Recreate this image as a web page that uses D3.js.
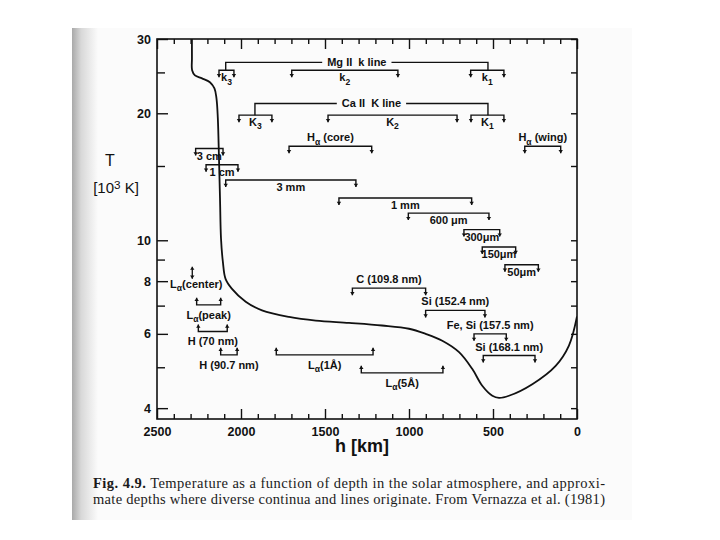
<!DOCTYPE html>
<html><head><meta charset="utf-8">
<script src="https://cdn.jsdelivr.net/npm/d3@7"></script>
<style>body{margin:0;background:#fff}svg{display:block}</style>
</head><body><svg id="c" width="720" height="540"></svg>
<script>
// ---------- data ----------
const hMajorTicks = [2500, 2000, 1500, 1000, 500, 0];
const hMinorTicks = [2400, 2300, 2200, 2100, 1900, 1800, 1700, 1600, 1400, 1300, 1200, 1100, 900, 800, 700, 600, 400, 300, 200, 100];
const tMajorTicks = [4, 6, 8, 10, 20, 30];
const tMinorTicks = [5, 7, 9, 15, 25];

// temperature curve (h in km, T in 10^3 K)
const curveH = [2292, 2292, 2291, 2274, 2232, 2185, 2158, 2146, 2138, 2131, 2125, 2119, 2108, 2092, 2055, 1972, 1875, 1714, 1555, 1357, 1161, 1000, 901, 802, 702, 623, 564, 504, 464, 405, 266, 127, 48, 0];
const curveT = [30, 27.0, 25.3, 24.6, 24.2, 23.7, 22.9, 21.7, 19.5, 15.6, 12.6, 10.1, 8.9, 8.1, 7.68, 7.15, 6.82, 6.58, 6.45, 6.37, 6.28, 6.17, 6.0, 5.78, 5.43, 4.95, 4.52, 4.28, 4.23, 4.28, 4.56, 5.04, 5.63, 6.6];

// brackets with labels below, ticks pointing down
const downBrackets = [
  {label: "k_3", h1: 2131, h2: 2042, T: 25.3},
  {label: "k_2", h1: 1698, h2: 1066, T: 25.3},
  {label: "k_1", h1: 633, h2: 435, T: 25.3},
  {label: "K_3", h1: 2012, h2: 1816, T: 19.8},
  {label: "K_2", h1: 1482, h2: 714, T: 19.8},
  {label: "K_1", h1: 631, h2: 435, T: 19.8},
  {label: "3 cm", h1: 2270, h2: 2107, T: 16.5},
  {label: "1 cm", h1: 2208, h2: 2018, T: 15.1},
  {label: "3 mm", h1: 2091, h2: 1316, T: 13.9},
  {label: "1 mm", h1: 1417, h2: 627, T: 12.6},
  {label: "600 μm", h1: 1004, h2: 524, T: 11.6},
  {label: "300μm", h1: 673, h2: 460, T: 10.6},
  {label: "150μm", h1: 564, h2: 365, T: 9.64},
  {label: "50μm", h1: 429, h2: 230, T: 8.75}
];
// brackets with labels above, ticks pointing down
const aboveBrackets = [
  {label: "H_α (core)", h1: 1714, h2: 1222, T: 16.7},
  {label: "H_α (wing)", h1: 311, h2: 97, T: 16.7},
  {label: "C (109.8 nm)", h1: 1337, h2: 901, T: 7.70},
  {label: "Si (152.4 nm)", h1: 901, h2: 548, T: 6.82},
  {label: "Fe, Si (157.5 nm)", h1: 613, h2: 421, T: 6.0},
  {label: "Si (168.1 nm)", h1: 558, h2: 250, T: 5.33}
];
// brackets with ticks pointing up, labels below
const upBrackets = [
  {label: "L_α(peak)", h1: 2264, h2: 2121, T: 7.03},
  {label: "H (70 nm)", h1: 2254, h2: 2082, T: 6.08},
  {label: "H (90.7 nm)", h1: 2121, h2: 2023, T: 5.35},
  {label: "L_α(1Å)", h1: 1790, h2: 1214, T: 5.35},
  {label: "L_α(5Å)", h1: 1284, h2: 798, T: 4.85}
];
// line groups
const lineGroups = [
  {label: "Mg II  k line", h1: 2091, h2: 530, T: 26.4, subT: 25.3},
  {label: "Ca II  K line", h1: 1917, h2: 530, T: 21.1, subT: 19.8}
];
// single-depth marker
const pointMarks = [{label: "L_α(center)", h: 2290, T: 8.38}];

const captionBold = "Fig. 4.9.";
const captionLine1 = " Temperature as a function of depth in the solar atmosphere, and approxi-";
const captionLine2 = "mate depths where diverse continua and lines originate. From Vernazza et al. (1981)";

// ---------- drawing ----------
const svg = d3.select("#c");
const ink = "#111";
const sans = "'Liberation Sans', Arial, sans-serif";

// scanned page background
const defs = svg.append("defs");
const grad = defs.append("linearGradient").attr("id", "shade").attr("x1", 0).attr("x2", 1).attr("y1", 0).attr("y2", 0);
grad.append("stop").attr("offset", 0).attr("stop-color", "#a9a9a9");
grad.append("stop").attr("offset", 0.35).attr("stop-color", "#d8d8d8");
grad.append("stop").attr("offset", 1).attr("stop-color", "#fbfbfb");
svg.append("rect").attr("x", 72).attr("y", 28).attr("width", 560).attr("height", 492).attr("fill", "#fbfbfb");
svg.append("rect").attr("x", 72).attr("y", 28).attr("width", 26).attr("height", 492).attr("fill", "url(#shade)");

const x = d3.scaleLinear().domain([2500, 0]).range([157, 577]);
const y = d3.scaleLog().domain([3.77, 30]).range([419, 39]);
const [xl, xr] = x.range();
const [yb, yt] = y.range();

function rich(t, str, size) {
  const parts = []; let buf = ""; let i = 0;
  while (i < str.length) {
    const c = str[i];
    if ((c === "_" || c === "^") && i + 1 < str.length) {
      if (buf) { parts.push({s: buf, m: 0}); buf = ""; }
      parts.push({s: str[i + 1], m: c === "_" ? 1 : -1}); i += 2;
    } else { buf += c; i++; }
  }
  if (buf) parts.push({s: buf, m: 0});
  let cur = 0;
  parts.forEach(p => {
    const target = p.m * size * 0.3;
    const ts = t.append("tspan").text(p.s).attr("dy", target - cur);
    if (p.m) ts.attr("font-size", size * 0.78);
    cur = target;
  });
  return t;
}

// axes (ticks pointing inward)
const axG = svg.append("g").attr("color", ink);
function styleAxis(g) { g.select(".domain").remove(); g.selectAll("line").attr("stroke", ink).attr("stroke-width", 1.4); }
axG.append("g").attr("transform", `translate(0,${yb})`)
  .call(d3.axisBottom(x).tickValues(hMinorTicks).tickSize(-5).tickFormat("")).call(styleAxis);
axG.append("g").attr("transform", `translate(0,${yb})`)
  .call(d3.axisBottom(x).tickValues(hMajorTicks).tickSize(-10).tickPadding(8).tickFormat(d3.format("d"))).call(styleAxis)
  .selectAll("text").attr("font-family", sans).attr("font-weight", "bold").attr("font-size", 12.5).attr("fill", ink);
axG.append("g").attr("transform", `translate(0,${yt})`)
  .call(d3.axisTop(x).tickValues(hMinorTicks).tickSize(-5).tickFormat("")).call(styleAxis);
axG.append("g").attr("transform", `translate(0,${yt})`)
  .call(d3.axisTop(x).tickValues(hMajorTicks).tickSize(-10).tickFormat("")).call(styleAxis);
axG.append("g").attr("transform", `translate(${xl},0)`)
  .call(d3.axisLeft(y).tickValues(tMinorTicks).tickSize(-8).tickFormat("")).call(styleAxis);
axG.append("g").attr("transform", `translate(${xl},0)`)
  .call(d3.axisLeft(y).tickValues(tMajorTicks).tickSize(-11).tickPadding(6).tickFormat(d3.format("d"))).call(styleAxis)
  .selectAll("text").attr("font-family", sans).attr("font-weight", "bold").attr("font-size", 12.5).attr("fill", ink);
axG.append("g").attr("transform", `translate(${xr},0)`)
  .call(d3.axisRight(y).tickValues(tMinorTicks.concat(tMajorTicks)).tickSize(-6).tickFormat("")).call(styleAxis);

// frame
svg.append("rect").attr("x", xl).attr("y", yt).attr("width", xr - xl).attr("height", yb - yt)
  .attr("fill", "none").attr("stroke", ink).attr("stroke-width", 1.6);

// axis titles
svg.append("text").attr("x", 110).attr("y", 166).attr("text-anchor", "middle")
  .attr("font-family", sans).attr("font-size", 16).attr("fill", ink).text("T");
rich(svg.append("text").attr("x", 116).attr("y", 193).attr("text-anchor", "middle")
  .attr("font-family", sans).attr("font-size", 15).attr("fill", ink), "[10^3 K]", 15);
svg.append("text").attr("x", 362).attr("y", 452).attr("text-anchor", "middle")
  .attr("font-family", sans).attr("font-weight", "bold").attr("font-size", 18).attr("fill", ink).text("h [km]");

// temperature curve
svg.append("defs").append("clipPath").attr("id", "clip").append("rect")
  .attr("x", xl).attr("y", yt).attr("width", xr - xl).attr("height", yb - yt);
const pts = curveH.map((h, i) => [h, curveT[i]]);
svg.append("path").datum(pts).attr("clip-path", "url(#clip)")
  .attr("d", d3.line().x(d => x(d[0])).y(d => y(d[1])).curve(d3.curveCatmullRom.alpha(0.5)))
  .attr("fill", "none").attr("stroke", ink).attr("stroke-width", 1.8);

// brackets
const bg = svg.append("g");
const tickLen = 7, lblSize = 11;
function arrowHead(xp, yp, dir) {
  bg.append("path").attr("d", `M${xp - 2.2},${yp - dir * 3.2}L${xp},${yp}L${xp + 2.2},${yp - dir * 3.2}Z`).attr("fill", ink);
}
function bracket(b, dir) {
  const x1 = x(b.h1), x2 = x(b.h2), y0 = y(b.T);
  bg.append("path").attr("d", `M${x1},${y0 + dir * tickLen}V${y0}H${x2}V${y0 + dir * tickLen}`)
    .attr("fill", "none").attr("stroke", ink).attr("stroke-width", 1.4);
  arrowHead(x1, y0 + dir * tickLen, dir);
  arrowHead(x2, y0 + dir * tickLen, dir);
  return [(x1 + x2) / 2, y0];
}
function label(str, cx, by) {
  return rich(bg.append("text").attr("x", cx).attr("y", by).attr("text-anchor", "middle")
    .attr("font-family", sans).attr("font-weight", "bold").attr("font-size", lblSize).attr("fill", ink), str, lblSize);
}
downBrackets.forEach(b => { const [cx, y0] = bracket(b, 1); label(b.label, cx, y0 + 11); });
aboveBrackets.forEach(b => { const [cx, y0] = bracket(b, 1); label(b.label, cx, y0 - 5); });
upBrackets.forEach(b => { const [cx, y0] = bracket(b, -1); label(b.label, cx, y0 + 14); });

lineGroups.forEach(g => {
  const x1 = x(g.h1), x2 = x(g.h2), y0 = y(g.T), ys = y(g.subT);
  bg.append("path").attr("d", `M${x1},${ys}V${y0}H${x2}V${ys}`)
    .attr("fill", "none").attr("stroke", ink).attr("stroke-width", 1.4);
  const t = label(g.label, (x1 + x2) / 2, y0 + 4).attr("xml:space", "preserve").style("white-space", "pre");
  const bb = t.node().getBBox();
  bg.insert("rect", () => t.node()).attr("x", bb.x - 5).attr("y", y0 - 2).attr("width", bb.width + 10).attr("height", 4).attr("fill", "#fbfbfb");
});

pointMarks.forEach(p => {
  const cx = x(p.h), cy = y(p.T);
  bg.append("line").attr("x1", cx).attr("x2", cx).attr("y1", cy - 6).attr("y2", cy + 6).attr("stroke", ink).attr("stroke-width", 1.3);
  arrowHead(cx, cy - 6, -1);
  arrowHead(cx, cy + 6, 1);
  label(p.label, cx + 4, cy + 15);
});

// caption
const serif = "'Liberation Serif', 'Times New Roman', serif";
const c1 = svg.append("text").attr("x", 93).attr("y", 488).attr("font-family", serif).attr("font-size", 14.5).attr("fill", "#1a1a1a")
  .attr("textLength", 512).attr("lengthAdjust", "spacing").style("white-space", "pre");
c1.append("tspan").attr("font-weight", "bold").text(captionBold);
c1.append("tspan").text(captionLine1);
svg.append("text").attr("x", 93).attr("y", 504).attr("font-family", serif).attr("font-size", 14.5).attr("fill", "#1a1a1a")
  .attr("textLength", 512).attr("lengthAdjust", "spacing").text(captionLine2);
</script></body></html>
